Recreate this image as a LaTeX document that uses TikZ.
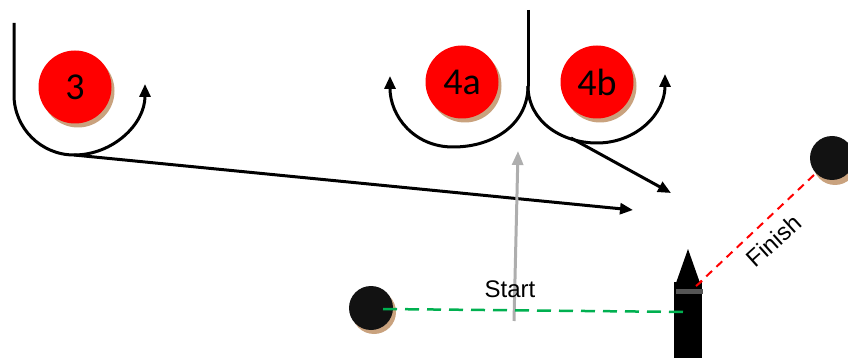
\documentclass[tikz,border=0pt]{standalone}
\usepackage{fontspec}
\newfontfamily\numfont{Carlito}
\newfontfamily\labfont{Liberation Sans}
\usetikzlibrary{arrows.meta}
\definecolor{tanshadow}{HTML}{C9A27E}
\definecolor{markred}{HTML}{FF0000}
\definecolor{startgreen}{HTML}{00B050}
\definecolor{arrowgray}{HTML}{AEAEAE}
\definecolor{bandgray}{HTML}{555555}
\tikzset{
  mark shadow/.style={circle,fill=tanshadow,inner sep=0pt,minimum size=73pt},
  redmark/.style={circle,fill=markred,inner sep=0pt,minimum size=73pt,font=\numfont\fontsize{38}{38}\selectfont},
  buoy shadow/.style={circle,fill=tanshadow,inner sep=0pt,minimum size=44pt},
  buoy/.style={circle,fill=black!93,inner sep=0pt,minimum size=44pt},
  course/.style={line width=3pt,black},
  tip/.style={-{Triangle[length=13pt,width=11pt]}},
  lab/.style={font=\labfont\fontsize{24}{24}\selectfont,inner sep=0pt},
}
\begin{document}
\begin{tikzpicture}[x=1pt,y=-1pt]
\useasboundingbox (0,0) rectangle (848,358);
% marks
\node[mark shadow] at (78,91) {};
\node[redmark] (m3) at (75,87) {3};
\node[mark shadow] at (465,86) {};
\node[redmark] (m4a) at (462,82) {4a};
\node[mark shadow] at (600,86) {};
\node[redmark] (m4b) at (597,82) {4b};
% course around 3
\coordinate (t3) at (14,23);
\coordinate (b3) at (74,155);
\coordinate (e3) at (145,84);
\draw[course,tip] (t3) -- (14,95) .. controls (14,128) and (41,155) .. (b3)
  .. controls (113,155) and (145,124) .. (e3);
\coordinate (aim1) at (633,210);
\draw[course,tip] (b3) -- (aim1);
% course around 4a / 4b
\coordinate (t4) at (528,10);
\coordinate (s4) at (528,86);
\coordinate (b4a) at (453,147);
\coordinate (e4a) at (390,76);
\coordinate (b4b) at (597,143);
\coordinate (e4b) at (665,74);
\draw[course] (t4) -- (s4);
\draw[course,tip] (s4) .. controls (528,123) and (495,147) .. (b4a)
  .. controls (414,147) and (390,116) .. (e4a);
\draw[course,tip] (s4) .. controls (528,121) and (561,143) .. (b4b)
  .. controls (636,143) and (665,114) .. (e4b);
\coordinate (l4b) at (571,138);
\coordinate (aim2) at (671,193);
\draw[course,tip] (l4b) -- (aim2);
% gray arrow
\coordinate (g0) at (514,321);
\coordinate (g1) at (518,151);
\draw[arrowgray,line width=3pt,-{Triangle[length=14pt,width=11pt]}] (g0) -- (g1);
% start pin and finish buoy
\coordinate (redstart) at (696,286);
\coordinate (greenstart) at (383,309);
\coordinate (greenend) at (686,312);
\node[buoy shadow] at (374,312) {};
\node[buoy] (pin) at (371,308) {};
\node[buoy shadow] at (835,163) {};
\draw[markred,line width=2pt,dash pattern=on 8pt off 6pt] (redstart) -- (832,158);
\node[buoy] (fin) at (832,158) {};
% committee boat
\fill[black] (674,282) rectangle (702,360);
\fill[black] (676,283) -- (688,249) -- (700,283) -- cycle;
\fill[bandgray] (676,289) rectangle (703,294);
\draw[markred,line width=2pt,dash pattern=on 8pt off 6pt] (redstart) -- (702,281);
\draw[startgreen,line width=2.5pt,dash pattern=on 14pt off 8pt] (greenstart) -- (greenend);
% labels
\node[lab] (st) at (510,289) {Start};
\node[lab,rotate=42] (fi) at (774,241) {Finish};
\end{tikzpicture}
\end{document}
